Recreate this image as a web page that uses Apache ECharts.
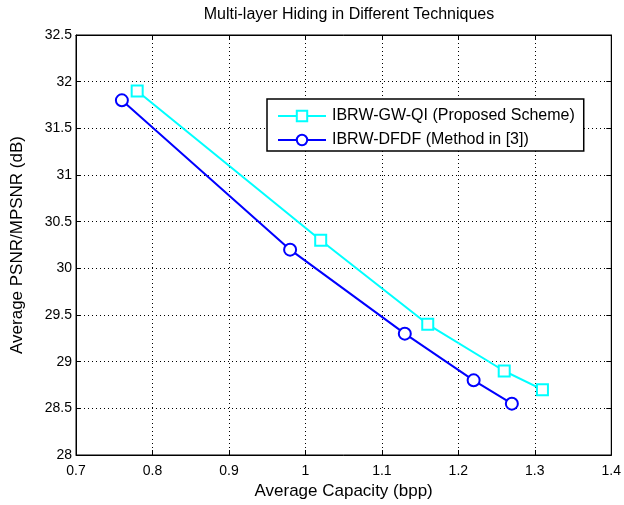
<!DOCTYPE html>
<html>
<head>
<meta charset="utf-8">
<script src="https://cdn.jsdelivr.net/npm/echarts@6/dist/echarts.min.js"></script>
<style>
  html, body { margin: 0; padding: 0; background: #fff; }
  #chart { width: 624px; height: 505px; }
</style>
</head>
<body>
<div id="chart"></div>
<script>
// Average capacity (bpp) vs. average PSNR/MPSNR (dB)
const proposedCapacity = [0.78, 1.02, 1.16, 1.26, 1.31];
const proposedPsnr     = [31.9, 30.3, 29.4, 28.9, 28.7];
const dfdfCapacity     = [0.76, 0.98, 1.13, 1.22, 1.27];
const dfdfPsnr         = [31.8, 30.2, 29.3, 28.8, 28.55];
const seriesNames = ['IBRW-GW-QI (Proposed Scheme)', 'IBRW-DFDF (Method in [3])'];
const xTicks = [0.7, 1.4, 0.1];   // min, max, step
const yTicks = [28, 32.5, 0.5];

const font = 'Liberation Sans, Arial, sans-serif';
const pairs = (xs, ys) => xs.map((x, i) => [x, ys[i]]);

const chart = echarts.init(document.getElementById('chart'));
const tickLabel = { color: '#000', fontSize: 14, fontFamily: font };
const baseAxis = {
  type: 'value',
  axisLine: { show: true, lineStyle: { color: '#000', width: 1 } },
  axisTick: { show: true, inside: true, length: 5, lineStyle: { color: '#000' } },
  splitLine: { show: true, lineStyle: { color: '#000', type: [1, 3], width: 1 } }
};

chart.setOption({
  animation: false,
  backgroundColor: '#fff',
  title: {
    text: 'Multi-layer Hiding in Different Techniques',
    left: 344, top: 2, textAlign: 'center',
    textStyle: { fontFamily: font, fontSize: 16, fontWeight: 'normal', color: '#000' }
  },
  grid: { left: 76, right: 11, top: 35, bottom: 50, show: true, borderColor: '#000', borderWidth: 1 },
  legend: {
    data: seriesNames,
    orient: 'vertical',
    left: 267, top: 99,
    padding: [9, 9, 3, 10],
    itemGap: 8,
    itemWidth: 48, itemHeight: 13,
    backgroundColor: '#fff',
    borderColor: '#000', borderWidth: 1.5,
    textStyle: { fontFamily: font, fontSize: 16, color: '#000', padding: [0, 0, 0, 1] }
  },
  xAxis: [
    Object.assign({}, baseAxis, {
      min: xTicks[0], max: xTicks[1], interval: xTicks[2],
      name: 'Average Capacity (bpp)', nameLocation: 'middle', nameGap: 25,
      nameTextStyle: { fontFamily: font, fontSize: 17, color: '#000' },
      axisLabel: Object.assign({}, tickLabel, { margin: 9, formatter: v => +v.toFixed(1) + '' })
    }),
    Object.assign({}, baseAxis, {
      position: 'top', min: xTicks[0], max: xTicks[1], interval: xTicks[2],
      axisLabel: { show: false }, splitLine: { show: false }
    })
  ],
  yAxis: [
    Object.assign({}, baseAxis, {
      min: yTicks[0], max: yTicks[1], interval: yTicks[2],
      name: 'Average PSNR/MPSNR (dB)', nameLocation: 'middle', nameGap: 50,
      nameTextStyle: { fontFamily: font, fontSize: 17, color: '#000' },
      axisLabel: Object.assign({}, tickLabel, { margin: 4, formatter: v => +v.toFixed(1) + '' })
    }),
    Object.assign({}, baseAxis, {
      position: 'right', min: yTicks[0], max: yTicks[1], interval: yTicks[2],
      axisLabel: { show: false }, splitLine: { show: false }
    })
  ],
  series: [
    {
      name: seriesNames[0], type: 'line',
      data: pairs(proposedCapacity, proposedPsnr),
      symbol: 'rect', symbolSize: 11,
      lineStyle: { color: '#00ffff', width: 2 },
      itemStyle: { color: '#ffffff', borderColor: '#00ffff', borderWidth: 2 },
      z: 3
    },
    {
      name: seriesNames[1], type: 'line',
      data: pairs(dfdfCapacity, dfdfPsnr),
      symbol: 'circle', symbolSize: 12,
      lineStyle: { color: '#0000ff', width: 2 },
      itemStyle: { color: '#ffffff', borderColor: '#0000ff', borderWidth: 2 },
      z: 3
    }
  ]
});
</script>
</body>
</html>
